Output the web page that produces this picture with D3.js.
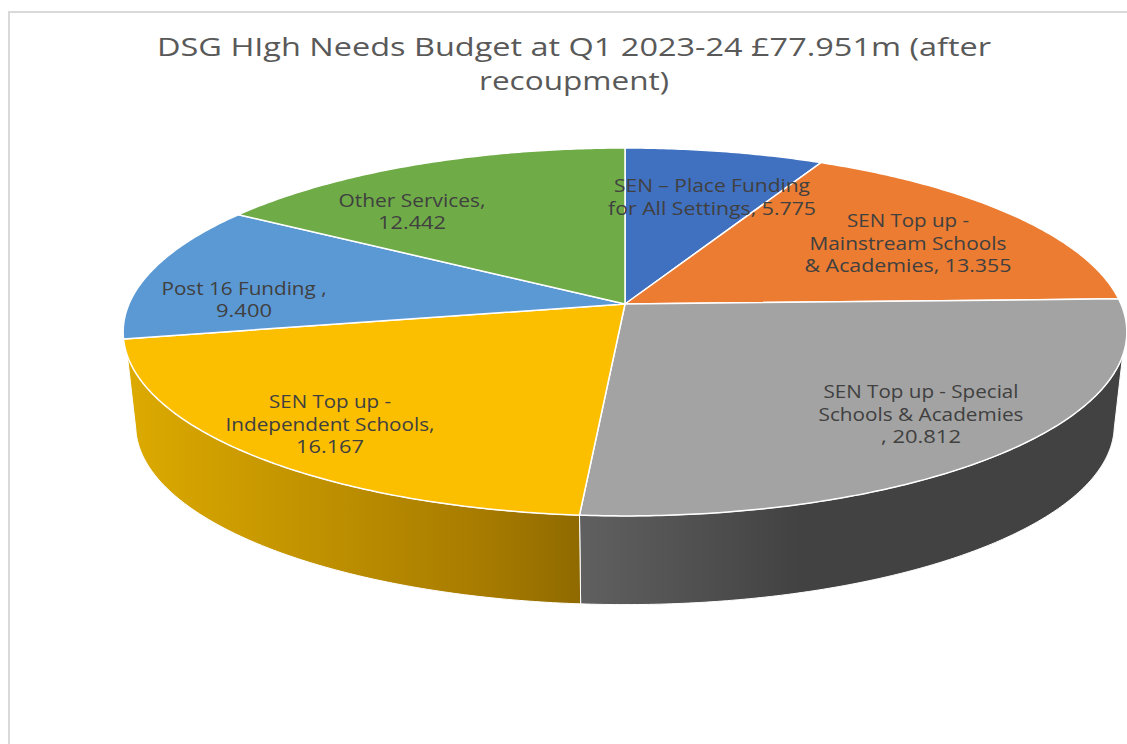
<!DOCTYPE html>
<html>
<head>
<meta charset="utf-8">
<script src="https://cdn.jsdelivr.net/npm/d3@7"></script>
<style>
  html, body { margin: 0; padding: 0; background: #fff; }
  svg { display: block; }
  text { font-family: "Open Sans", sans-serif; text-anchor: middle; }
</style>
</head>
<body>
<svg id="chart"></svg>
<script>
// data
const categories = ['SEN – Place Funding for All Settings', 'SEN Top up - Mainstream Schools & Academies',
  'SEN Top up - Special Schools & Academies', 'SEN Top up - Independent Schools', 'Post 16 Funding', 'Other Services'];
const values = [5.775, 13.355, 20.812, 16.167, 9.4, 12.442];
const titleLines = ['DSG HIgh Needs Budget at Q1 2023-24 £77.951m (after', 'recoupment)'];
const labelLines = [
  ['SEN – Place Funding', 'for All Settings, 5.775'],
  ['SEN Top up -', 'Mainstream Schools', '& Academies, 13.355'],
  ['SEN Top up - Special', 'Schools & Academies', ', 20.812'],
  ['SEN Top up -', 'Independent Schools,', '16.167'],
  ['Post 16 Funding ,', '9.400'],
  ['Other Services,', '12.442']
];

// styles
const colors = ['#4070c0', '#eb7c31', '#a3a3a3', '#fcbf00', '#5b99d5', '#6fac47'];

// layout of the text, [centre x, first baseline, line step] and widths of each line
const w = 1127, h = 744;
const titlePos = [574, 56, 34], titleWidths = [834, 190];
const labelPos = [[712, 192, 23], [908, 227, 22.5], [921, 398, 22.5], [330, 408, 22.5], [244, 295, 22], [412, 207, 22]];
const labelWidths = [[196, 208], [122, 197, 207], [195, 205, 80], [122, 209, 68], [165, 56], [147, 68]];

let svg = d3.select('#chart').attr('width', w).attr('height', h);

// frame of the chart area, only top and left show
svg.append('path')
  .attr('d', d3.line()([[9, h], [9, 12], [w, 12]]))
  .attr('fill', 'none')
  .attr('stroke', '#d9d9d9')
  .attr('stroke-width', 2);

// the tilted disc is a circle seen in perspective
const k = -0.152;
function project(angle, cy, s) {
  let u = Math.sin(angle), v = -Math.cos(angle);
  let d = 1 + k * v;
  return [625 + s * 496 * u / d, cy + s * 179.7 * v / d];
}
const topCy = 304, baseCy = 398, baseScale = 0.975;
const deg = (a) => a * Math.PI / 180;

function arcPoints(a0, a1, cy, s) {
  let n = Math.max(2, Math.ceil(Math.abs(a1 - a0) / 0.01));
  return d3.range(n + 1).map((i) => project(a0 + (a1 - a0) * i / n, cy, s));
}

let arcs = d3.pie().sort(null)(values);
let line = d3.line();

// gradients for the side walls
let defs = svg.append('defs');
function wallGradient(id, x1, x2, stops) {
  let g = defs.append('linearGradient').attr('id', id)
    .attr('gradientUnits', 'userSpaceOnUse')
    .attr('x1', x1).attr('x2', x2).attr('y1', 0).attr('y2', 0);
  stops.forEach((s) => g.append('stop').attr('offset', s[0]).attr('stop-color', s[1]));
}
wallGradient('wallGold', 130, 580, [[0, '#dcaa00'], [0.8, '#a67a00'], [1, '#8f6a00']]);
wallGradient('wallGrey', 580, 800, [[0, '#606060'], [1, '#424242']]);

// side walls, the visible part runs from the right edge round to the left edge
let grey = arcs[2], gold = arcs[3];
let walls = [
  { fill: 'url(#wallGrey)', top: [deg(106), grey.endAngle], base: [deg(100), grey.endAngle] },
  { fill: 'url(#wallGold)', top: [gold.startAngle, deg(254)], base: [gold.startAngle, deg(260)] }
];
svg.selectAll('path.wall')
  .data(walls)
  .enter()
  .append('path')
  .attr('class', 'wall')
  .attr('d', (d) => line(arcPoints(d.top[0], d.top[1], topCy, 1)
    .concat(arcPoints(d.base[1], d.base[0], baseCy, baseScale))) + 'Z')
  .attr('fill', (d) => d.fill)
  .attr('stroke', '#fff')
  .attr('stroke-width', 1);

// top of the pie
svg.selectAll('path.slice')
  .data(arcs)
  .enter()
  .append('path')
  .attr('class', 'slice')
  .attr('d', (d) => line([[625, topCy]].concat(arcPoints(d.startAngle, d.endAngle, topCy, 1))) + 'Z')
  .attr('fill', (d, i) => colors[i])
  .attr('stroke', '#fff')
  .attr('stroke-width', 1.5)
  .attr('stroke-linejoin', 'round');

// title
svg.selectAll('text.title')
  .data(titleLines)
  .enter()
  .append('text')
  .attr('class', 'title')
  .attr('x', titlePos[0])
  .attr('y', (d, i) => titlePos[1] + i * titlePos[2])
  .attr('font-size', 26)
  .attr('fill', '#595959')
  .attr('textLength', (d, i) => titleWidths[i])
  .attr('lengthAdjust', 'spacingAndGlyphs')
  .text((d) => d);

// data labels
labelLines.forEach((lines, c) => {
  svg.selectAll('text.label' + c)
    .data(lines)
    .enter()
    .append('text')
    .attr('class', 'label' + c)
    .attr('x', labelPos[c][0])
    .attr('y', (d, i) => labelPos[c][1] + i * labelPos[c][2])
    .attr('font-size', 18)
    .attr('fill', '#404040')
    .attr('textLength', (d, i) => labelWidths[c][i])
    .attr('lengthAdjust', 'spacingAndGlyphs')
    .text((d) => d);
});
</script>
</body>
</html>
